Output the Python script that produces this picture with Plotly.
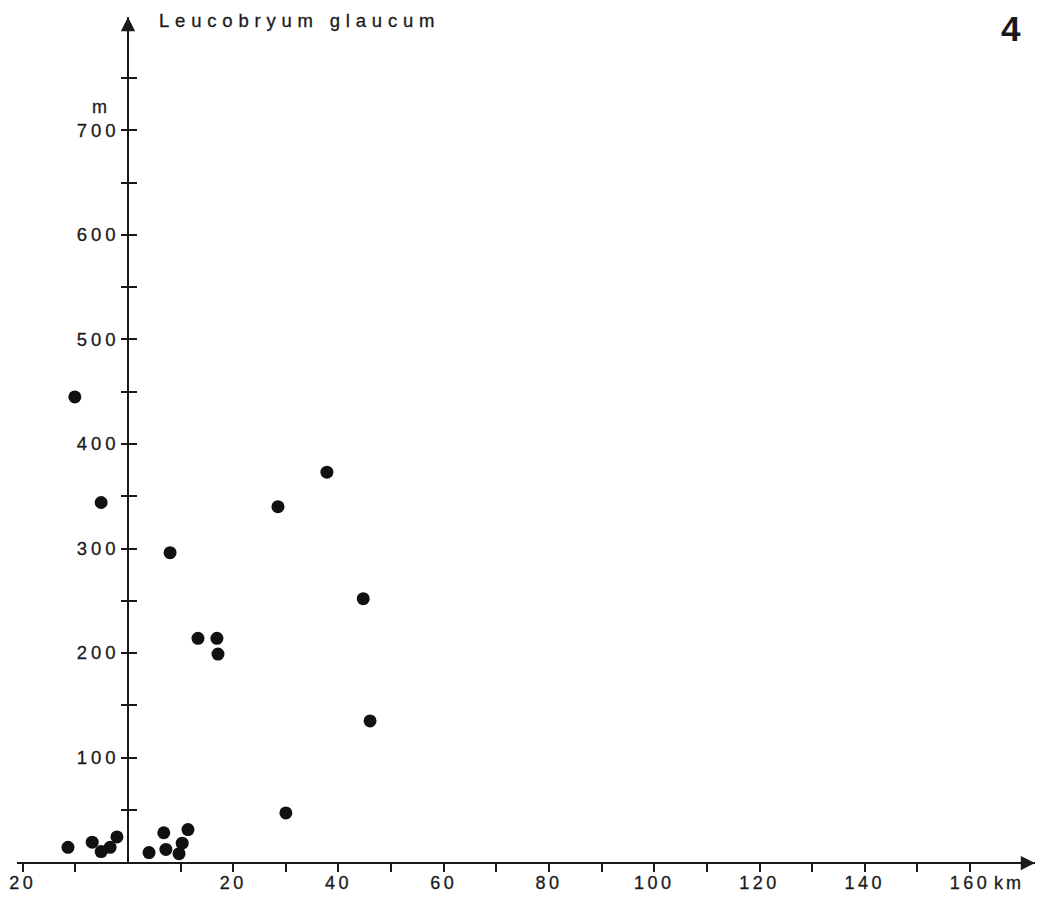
import plotly.graph_objects as go

# ---------------- data ----------------
dist_km = [-11.4, -6.8, -5.1, -3.4, -2.1, 4.0, 6.8, 7.2, 9.7, 10.3, 11.4, 30.0,
           -10.1, -5.1, 8.0, 13.3, 16.9, 17.1, 44.7, 37.8, 28.5, 46.0]
alt_m = [14, 19, 10, 14, 24, 9, 28, 12, 8, 18, 31, 47,
         445, 344, 296, 214, 214, 199, 252, 373, 340, 135]

x_tickvals = [-20, -10, 10, 20, 30, 40, 50, 60, 70, 80, 90, 100, 110, 120, 130, 140, 150, 160]
x_ticklabels = ["20", "", "", "20", "", "40", "", "60", "", "80", "", "100", "", "120", "", "140", "", "160"]
y_tickvals = [50, 100, 150, 200, 250, 300, 350, 400, 450, 500, 550, 600, 650, 700, 750]
y_ticklabels = ["", "100", "", "200", "", "300", "", "400", "", "500", "", "600", "", "700", ""]

species = "Leucobryum glaucum"
panel = "4"
x_unit = "km"
y_unit = "m"

# ---------------- layout geometry ----------------
W, H = 1049, 898
ML, MR, MT, MB = 17, 14, 17, 36
PW, PH = W - ML - MR, H - MT - MB
X_RANGE = [-21.09, 172.35]
Y_RANGE = [0, 808.6]
INK = "#1a1a1a"
FONT = "Liberation Sans, Arial, Helvetica, sans-serif"


def spaced(t, px, stroke=0.3):
    if not t:
        return t
    return (f'<span style="letter-spacing:{px}px;stroke:{INK};'
            f'stroke-width:{stroke}px">{t}</span>')


ypos = (0 - X_RANGE[0]) / (X_RANGE[1] - X_RANGE[0])

fig = go.Figure()
fig.add_trace(go.Scatter(
    x=dist_km, y=alt_m, mode="markers",
    marker=dict(size=13, color="#111111", line=dict(width=0)),
    cliponaxis=False, showlegend=False, hoverinfo="skip",
))
# invisible companion trace so the inside-tick overlay axis is drawn
fig.add_trace(go.Scatter(
    x=dist_km, y=alt_m, mode="markers", yaxis="y2",
    marker=dict(size=1, opacity=0), showlegend=False, hoverinfo="skip",
))

fig.update_layout(
    width=W, height=H,
    margin=dict(l=ML, r=MR, t=MT, b=MB, autoexpand=False),
    paper_bgcolor="white", plot_bgcolor="white",
    font=dict(family=FONT, color=INK, size=16),
    xaxis=dict(
        range=X_RANGE, autorange=False, showgrid=False, zeroline=False,
        showline=True, linecolor=INK, linewidth=1.5,
        ticks="outside", ticklen=8, tickwidth=1.5, tickcolor=INK,
        tickvals=x_tickvals, ticktext=[spaced(t, 3.5) for t in x_ticklabels],
        tickfont=dict(size=18, color=INK, family=FONT),
        ticklabelstandoff=-4,
        anchor="y", fixedrange=True,
    ),
    yaxis=dict(
        range=Y_RANGE, autorange=False, showgrid=False, zeroline=False,
        showline=True, linecolor=INK, linewidth=1.5,
        ticks="outside", ticklen=6, tickwidth=1.5, tickcolor=INK,
        tickvals=y_tickvals, ticktext=[spaced(t, 4) for t in y_ticklabels],
        tickfont=dict(size=18.5, color=INK, family=FONT),
        ticklabelstandoff=-2,
        anchor="free", position=ypos, side="left", fixedrange=True,
    ),
    yaxis2=dict(
        range=Y_RANGE, autorange=False, showgrid=False, zeroline=False,
        showline=False, overlaying="y",
        ticks="inside", ticklen=8, tickwidth=1.5, tickcolor=INK,
        tickvals=y_tickvals, showticklabels=False,
        anchor="free", position=ypos, side="left", fixedrange=True,
    ),
)

annotations = [
    # arrow heads on the axes
    dict(x=0, y=Y_RANGE[1], ax=0, ay=Y_RANGE[1] - 60, xref="x", yref="y",
         axref="x", ayref="y", text="", showarrow=True, arrowhead=2,
         arrowsize=1.9, arrowwidth=1.5, arrowcolor=INK, standoff=0),
    dict(x=X_RANGE[1], y=0, ax=X_RANGE[1] - 12, ay=0, xref="x", yref="y",
         axref="x", ayref="y", text="", showarrow=True, arrowhead=2,
         arrowsize=1.9, arrowwidth=1.5, arrowcolor=INK, standoff=0, yshift=-1),
    # species title
    dict(x=(157 - ML) / PW, y=1 - (21 - MT) / PH, xref="paper", yref="paper",
         xanchor="left", yanchor="middle", showarrow=False,
         text=spaced(species, 5.8), font=dict(size=18.5, color=INK, family=FONT)),
    # panel number
    dict(x=(1011 - ML) / PW, y=1 - (29 - MT) / PH, xref="paper", yref="paper",
         xanchor="center", yanchor="middle", showarrow=False,
         text=f"<b>{panel}</b>", font=dict(size=35, color=INK, family=FONT)),
    # unit labels
    dict(x=0, y=700, xref="x", yref="y", xanchor="center", yanchor="middle",
         xshift=-28, yshift=23, showarrow=False, text=spaced(y_unit, 0),
         font=dict(size=18, color=INK, family=FONT)),
    dict(x=160, y=0, xref="x", yref="y", xanchor="left", yanchor="middle",
         xshift=22, yshift=-21, showarrow=False, text=spaced(x_unit, 3),
         font=dict(size=18, color=INK, family=FONT)),
]
fig.update_layout(annotations=annotations)

fig.write_html("out.html")
